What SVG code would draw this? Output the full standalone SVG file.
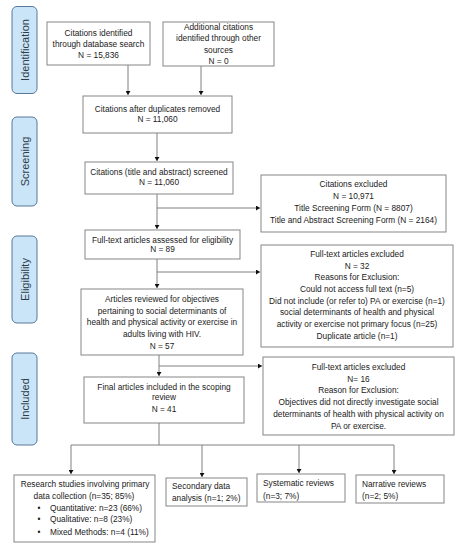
<svg xmlns="http://www.w3.org/2000/svg" width="463" height="550" viewBox="0 0 463 550">
<style>
.box{fill:#fff;stroke:#858585;stroke-width:1}
.side{fill:#cbe5f8;stroke:#56789a;stroke-width:1}
text{font-family:"Liberation Sans",Arial,sans-serif;font-size:8.3px;fill:#1a1a1a}
.c{text-anchor:middle}
.st{font-size:11px;fill:#2e3b48;text-anchor:middle}
.ln{fill:none;stroke:#808080;stroke-width:1}
</style>
<defs>
<marker id="ah" markerWidth="5" markerHeight="5" refX="4" refY="2.5" orient="auto" markerUnits="userSpaceOnUse">
<path d="M0,0 L4,2.5 L0,5 Z" fill="#111"/>
</marker>
</defs>
<g id="side-identification"><rect class="side" x="12" y="6.5" width="25" height="87" rx="5"/><text class="st" transform="translate(28.5,50) rotate(-90)">Identification</text></g>
<g id="side-screening"><rect class="side" x="12" y="117" width="25" height="89" rx="5"/><text class="st" transform="translate(28.5,161.5) rotate(-90)">Screening</text></g>
<g id="side-eligibility"><rect class="side" x="12" y="236" width="25" height="87" rx="5"/><text class="st" transform="translate(28.5,279.5) rotate(-90)">Eligibility</text></g>
<g id="side-included"><rect class="side" x="12" y="353" width="25" height="92" rx="5"/><text class="st" transform="translate(28.5,399) rotate(-90)">Included</text></g>

<g id="connectors">
<path class="ln" d="M128,65 V95" marker-end="url(#ah)"/>
<path class="ln" d="M201,66 V95" marker-end="url(#ah)"/>
<path class="ln" d="M157,133 V161" marker-end="url(#ah)"/>
<path class="ln" d="M157,194 V229" marker-end="url(#ah)"/>
<path class="ln" d="M157,208 H260" marker-end="url(#ah)"/>
<path class="ln" d="M157,259 V288" marker-end="url(#ah)"/>
<path class="ln" d="M157,272 H260" marker-end="url(#ah)"/>
<path class="ln" d="M159,355 V376" marker-end="url(#ah)"/>
<path class="ln" d="M159,366 H262" marker-end="url(#ah)"/>
<path class="ln" d="M159,423 V445 M71,445 H394"/>
<path class="ln" d="M71,445 V474" marker-end="url(#ah)"/>
<path class="ln" d="M202,445 V477" marker-end="url(#ah)"/>
<path class="ln" d="M299,445 V473" marker-end="url(#ah)"/>
<path class="ln" d="M394,445 V474" marker-end="url(#ah)"/>
</g>

<g id="n1"><rect class="box" x="47" y="22" width="103" height="43"/>
<text class="c" x="98.5" y="36">Citations identified</text>
<text class="c" x="98.5" y="47">through database search</text>
<text class="c" x="98.5" y="58">N = 15,836</text></g>

<g id="n2"><rect class="box" x="163" y="22" width="111" height="44"/>
<text class="c" x="218.5" y="30">Additional citations</text>
<text class="c" x="218.5" y="41">identified through other</text>
<text class="c" x="218.5" y="53">sources</text>
<text class="c" x="218.5" y="64">N = 0</text></g>

<g id="n3"><rect class="box" x="83" y="96" width="149" height="37"/>
<text class="c" x="157.5" y="112">Citations after duplicates removed</text>
<text class="c" x="157.5" y="122">N = 11,060</text></g>

<g id="n4"><rect class="box" x="85" y="162" width="148" height="32"/>
<text class="c" x="159" y="175">Citations (title and abstract) screened</text>
<text class="c" x="159" y="185">N = 11,060</text></g>

<g id="n5"><rect class="box" x="85" y="230" width="155" height="29"/>
<text class="c" x="162.5" y="243">Full-text articles assessed for eligibility</text>
<text class="c" x="162.5" y="252">N = 89</text></g>

<g id="n6"><rect class="box" x="261" y="175" width="185" height="57"/>
<text class="c" x="353.5" y="187">Citations excluded</text>
<text class="c" x="353.5" y="199">N = 10,971</text>
<text class="c" x="353.5" y="211">Title Screening Form (N = 8807)</text>
<text class="c" x="353.5" y="223">Title and Abstract Screening Form (N = 2164)</text></g>

<g id="n7"><rect class="box" x="261" y="245" width="192" height="102"/>
<text class="c" x="357" y="257">Full-text articles excluded</text>
<text class="c" x="357" y="269">N = 32</text>
<text class="c" x="357" y="280">Reasons for Exclusion:</text>
<text class="c" x="357" y="292">Could not access full text (n=5)</text>
<text class="c" x="357" y="304">Did not include (or refer to) PA or exercise (n=1)</text>
<text class="c" x="357" y="315">social determinants of health and physical</text>
<text class="c" x="357" y="327">activity or exercise not primary focus (n=25)</text>
<text class="c" x="357" y="339">Duplicate article (n=1)</text></g>

<g id="n8"><rect class="box" x="81" y="289" width="162" height="66"/>
<text class="c" x="162" y="302">Articles reviewed for objectives</text>
<text class="c" x="162" y="314">pertaining to social determinants of</text>
<text class="c" x="162" y="325">health and physical activity or exercise in</text>
<text class="c" x="162" y="337">adults living with HIV.</text>
<text class="c" x="162" y="349">N = 57</text></g>

<g id="n9"><rect class="box" x="84" y="377" width="160" height="46"/>
<text class="c" x="164" y="390">Final articles included in the scoping</text>
<text class="c" x="164" y="400">review</text>
<text class="c" x="164" y="412">N = 41</text></g>

<g id="n10"><rect class="box" x="263" y="357" width="191" height="78"/>
<text class="c" x="358.5" y="370">Full-text articles excluded</text>
<text class="c" x="358.5" y="382">N= 16</text>
<text class="c" x="358.5" y="393">Reason for Exclusion:</text>
<text class="c" x="358.5" y="405">Objectives did not directly investigate social</text>
<text class="c" x="358.5" y="417">determinants of health with physical activity on</text>
<text class="c" x="358.5" y="429">PA or exercise.</text></g>

<g id="n11"><rect class="box" x="14" y="475" width="141" height="67"/>
<text class="c" x="85" y="487">Research studies involving primary</text>
<text class="c" x="84" y="499">data collection (n=35; 85%)</text>
<text x="37.5" y="511">•</text><text x="50" y="511">Quantitative: n=23 (66%)</text>
<text x="37.5" y="522">•</text><text x="50" y="522">Qualitative: n=8 (23%)</text>
<text x="37.5" y="535">•</text><text x="50" y="535">Mixed Methods: n=4 (11%)</text></g>

<g id="n12"><rect class="box" x="166" y="478" width="81" height="28"/>
<text x="172" y="489">Secondary data</text>
<text x="172" y="501">analysis (n=1; 2%)</text></g>

<g id="n13"><rect class="box" x="257" y="474" width="88" height="28"/>
<text x="263" y="486">Systematic reviews</text>
<text x="263" y="499">(n=3; 7%)</text></g>

<g id="n14"><rect class="box" x="356" y="475" width="88" height="28"/>
<text x="362" y="487">Narrative reviews</text>
<text x="362" y="499">(n=2; 5%)</text></g>
</svg>
